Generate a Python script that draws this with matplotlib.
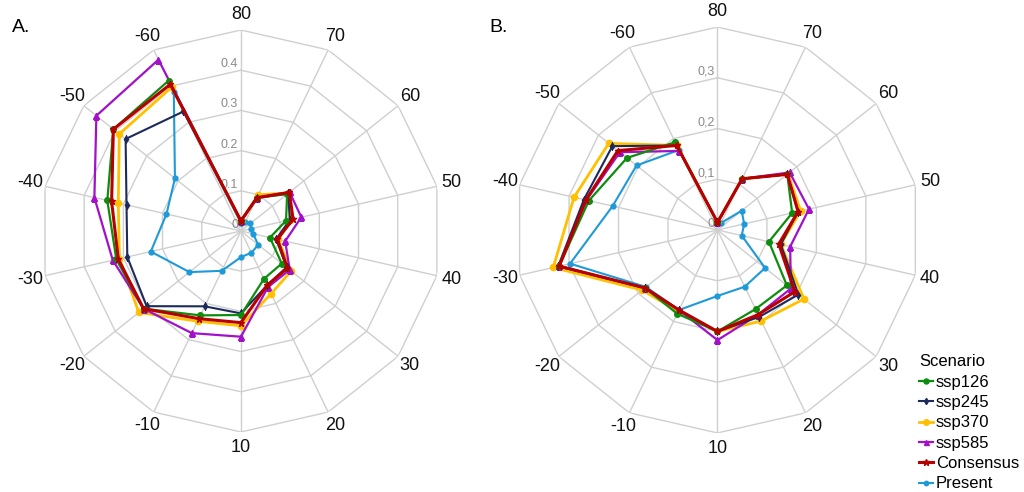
import numpy as np
import matplotlib.pyplot as plt

plt.rcParams['font.family'] = ['Liberation Sans', 'DejaVu Sans']

# latitude bands, clockwise from the top
categories = ['80', '70', '60', '50', '40', '30', '20', '10',
              '-10', '-20', '-30', '-40', '-50', '-60']

# panel A
a_ssp126 = [0.025, 0.092, 0.147, 0.115, 0.074, 0.130, 0.132, 0.209, 0.233, 0.310, 0.318, 0.341, 0.406, 0.415]
a_ssp245 = [0.025, 0.092, 0.150, 0.125, 0.090, 0.145, 0.150, 0.205, 0.208, 0.300, 0.290, 0.292, 0.367, 0.330]
a_ssp370 = [0.025, 0.100, 0.152, 0.125, 0.095, 0.160, 0.173, 0.236, 0.249, 0.325, 0.310, 0.313, 0.387, 0.397]
a_ssp585 = [0.025, 0.092, 0.155, 0.154, 0.113, 0.155, 0.155, 0.263, 0.282, 0.310, 0.327, 0.374, 0.460, 0.473]
a_consensus = [0.025, 0.092, 0.154, 0.133, 0.093, 0.148, 0.150, 0.228, 0.242, 0.310, 0.313, 0.330, 0.406, 0.405]
a_present = [0.020, 0.025, 0.030, 0.025, 0.031, 0.055, 0.060, 0.065, 0.110, 0.164, 0.230, 0.190, 0.210, 0.385]

# panel B
b_ssp126 = [0.015, 0.112, 0.176, 0.151, 0.104, 0.175, 0.173, 0.200, 0.183, 0.183, 0.320, 0.260, 0.228, 0.192]
b_ssp245 = [0.015, 0.112, 0.176, 0.163, 0.128, 0.204, 0.190, 0.200, 0.175, 0.183, 0.322, 0.270, 0.265, 0.185]
b_ssp370 = [0.015, 0.112, 0.178, 0.168, 0.128, 0.218, 0.199, 0.200, 0.178, 0.190, 0.332, 0.290, 0.274, 0.185]
b_ssp585 = [0.015, 0.112, 0.182, 0.185, 0.147, 0.185, 0.185, 0.217, 0.175, 0.183, 0.320, 0.265, 0.246, 0.173]
b_consensus = [0.015, 0.112, 0.176, 0.163, 0.124, 0.195, 0.185, 0.200, 0.175, 0.183, 0.320, 0.266, 0.251, 0.185]
b_present = [0.015, 0.015, 0.061, 0.054, 0.049, 0.120, 0.124, 0.130, 0.175, 0.180, 0.298, 0.212, 0.204, 0.175]

a_rings = [0.1, 0.2, 0.3, 0.4, 0.5]
a_ring_labels = ['0', '0.1', '0.2', '0.3', '0.4']
b_rings = [0.1, 0.2, 0.3, 0.4]
b_ring_labels = ['0', '0,1', '0,2', '0,3']

# name, colour, marker, marker size, line width
styles = [
    ('Present', '#1f9ad8', 'o', 3.5, 1.5),
    ('ssp370', '#ffc000', 'o', 4.5, 2.0),
    ('ssp585', '#a210c8', '^', 4.0, 1.6),
    ('ssp245', '#1c2a5c', 'd', 3.5, 1.5),
    ('ssp126', '#0e8c0e', 'o', 4.0, 1.6),
    ('Consensus', '#b80000', '*', 5.0, 2.2),
]
legend_order = ['ssp126', 'ssp245', 'ssp370', 'ssp585', 'Consensus', 'Present']

n = len(categories)
theta = np.arange(n) * 2 * np.pi / n
theta_closed = np.append(theta, theta[0])

fig = plt.figure(figsize=(10.24, 4.92), dpi=100)


def radar(rect, rings, ring_labels, series):
    ax = fig.add_axes(rect, projection='polar')
    ax.set_theta_zero_location('N')
    ax.set_theta_direction(-1)
    rmax = rings[-1]
    ax.set_ylim(0, rmax)
    ax.grid(False)
    ax.spines['polar'].set_visible(False)
    ax.set_xticks([])
    ax.set_yticks([])
    # polygon grid
    for r in rings:
        ax.plot(theta_closed, [r] * (n + 1), color='#cfcfcf', lw=1.0, zorder=1)
    for t in theta:
        ax.plot([t, t], [0, rmax], color='#cfcfcf', lw=1.0, zorder=1)
    # category labels
    for t, lab in zip(theta, categories):
        ax.text(t, rmax * 1.075, lab, ha='center', va='center', fontsize=13, color='#111111')
    # ring labels on the top spoke
    for r, lab in zip([0] + rings[:-1], ring_labels):
        ax.annotate(lab, xy=(0, r), xytext=(-2, 0), textcoords='offset points',
                    ha='right', va='bottom', fontsize=9, color='#8a8a8a', zorder=2)
    lines = {}
    for name, col, mk, ms, lw in styles:
        vals = series[name]
        ln, = ax.plot(theta_closed, list(vals) + [vals[0]], color=col, lw=lw,
                      marker=mk, ms=ms, zorder=3, label=name)
        lines[name] = ln
    return ax, lines


ax_a, lines = radar([0.039, 0.122, 0.3926, 0.817], a_rings, a_ring_labels,
                    {'ssp126': a_ssp126, 'ssp245': a_ssp245, 'ssp370': a_ssp370,
                     'ssp585': a_ssp585, 'Consensus': a_consensus, 'Present': a_present})
ax_b, _ = radar([0.5024, 0.12, 0.3965, 0.825], b_rings, b_ring_labels,
                {'ssp126': b_ssp126, 'ssp245': b_ssp245, 'ssp370': b_ssp370,
                 'ssp585': b_ssp585, 'Consensus': b_consensus, 'Present': b_present})

fig.text(0.012, 0.945, 'A.', fontsize=14, va='center')
fig.text(0.478, 0.945, 'B.', fontsize=14, va='center')

leg = fig.legend([lines[k] for k in legend_order], legend_order, title='Scenario',
                 loc='upper left', bbox_to_anchor=(0.888, 0.30), frameon=False,
                 fontsize=12, title_fontsize=12, handlelength=0.8, handletextpad=0.2,
                 labelspacing=0.32, borderpad=0.1, markerscale=0.9)
leg._legend_box.align = 'left'

fig.savefig('out.png', dpi=100)
